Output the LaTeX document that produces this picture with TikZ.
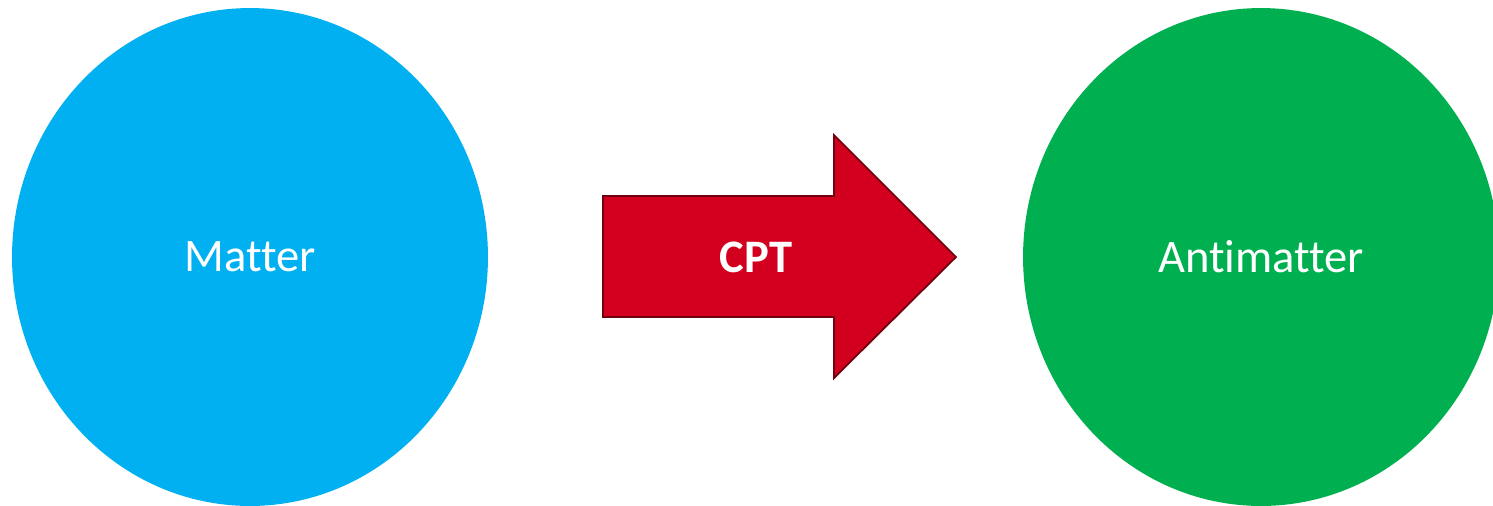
\documentclass[tikz,border=0pt]{standalone}
\usepackage{fontspec}
\setmainfont{Carlito}[Ligatures={NoCommon}]
\usetikzlibrary{shapes.geometric}
\definecolor{matterblue}{RGB}{0,176,240}
\definecolor{antigreen}{RGB}{0,176,80}
\definecolor{cptred}{RGB}{210,0,30}
\definecolor{cptedge}{RGB}{110,0,15}
\tikzset{
    % big filled disk for matter / antimatter
    disk/.style={ellipse, minimum width=9.52cm, minimum height=9.96cm,
        inner sep=0pt, text=white, font=\fontsize{26.5}{30}\selectfont},
    % block arrow for the CPT transformation
    blockarrow/.style={fill=cptred, draw=cptedge, line width=1pt, line join=miter},
    % label on the block arrow
    arrowtext/.style={text=white, font=\fontsize{26.5}{30}\selectfont\bfseries},
}

\begin{document}
\begin{tikzpicture}[x=0.02cm, y=-0.02cm]
    \useasboundingbox (0,0) rectangle (1493,505);

    % ---- the two disks ----
    \node[disk, fill=matterblue] (matter) at (250,257)  {Matter};
    \node[disk, fill=antigreen]  (anti)   at (1261,257) {Antimatter};

    % ---- CPT block arrow ----
    \draw[blockarrow] (603,196) -- (834,196) -- (834,135) -- (956,257)
        -- (834,378) -- (834,317) -- (603,317) -- cycle;
    \node[arrowtext] (cpt) at (756,257) {CPT};

\end{tikzpicture}
\end{document}
